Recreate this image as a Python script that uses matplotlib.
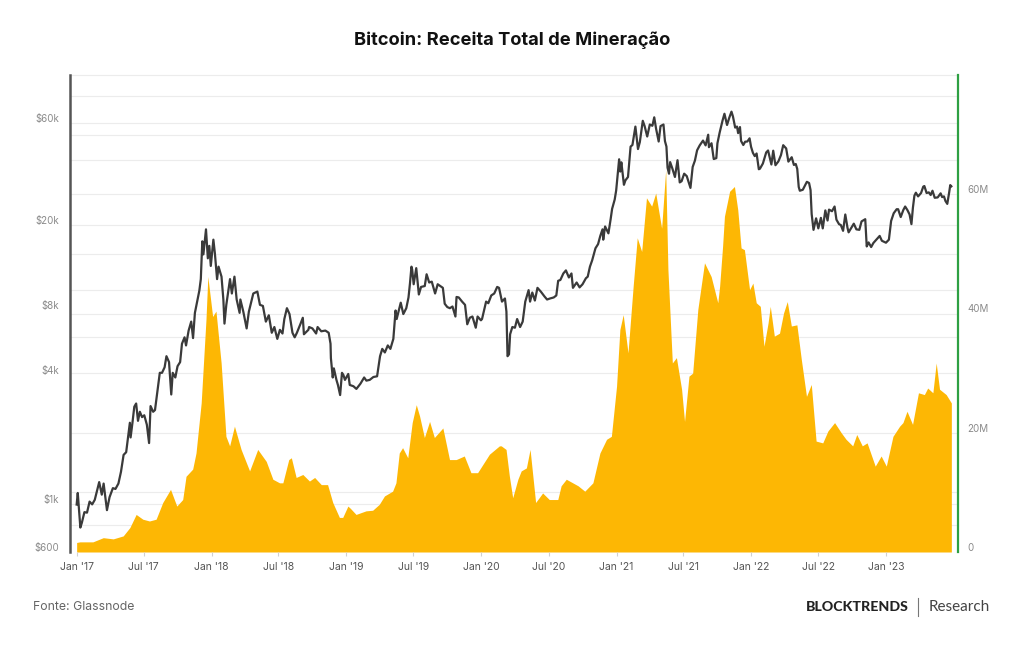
import matplotlib
matplotlib.use("Agg")
import matplotlib.pyplot as plt
import matplotlib.dates as mdates
from matplotlib.transforms import ScaledTranslation, blended_transform_factory
from matplotlib.lines import Line2D
import numpy as np
import pandas as pd

# ---------------- data ----------------
price_data = """
2017-01-01 998
2017-01-04 1130
2017-01-08 910
2017-01-11 780
2017-01-15 820
2017-01-22 920
2017-01-29 915
2017-02-05 1030
2017-02-12 1000
2017-02-19 1050
2017-02-26 1170
2017-03-03 1270
2017-03-10 1110
2017-03-15 1250
2017-03-24 940
2017-03-31 1080
2017-04-09 1190
2017-04-16 1180
2017-04-24 1250
2017-05-01 1420
2017-05-08 1700
2017-05-15 1750
2017-05-20 2050
2017-05-25 2400
2017-05-27 2050
2017-06-01 2400
2017-06-06 2850
2017-06-11 2950
2017-06-16 2450
2017-06-21 2700
2017-06-27 2550
2017-07-03 2600
2017-07-10 2350
2017-07-16 1930
2017-07-20 2870
2017-07-27 2700
2017-08-01 2750
2017-08-08 3400
2017-08-14 4100
2017-08-20 4100
2017-08-27 4350
2017-09-01 4900
2017-09-08 4600
2017-09-14 3250
2017-09-18 4100
2017-09-25 3900
2017-10-01 4400
2017-10-08 4600
2017-10-13 5600
2017-10-20 6000
2017-10-24 5500
2017-10-31 6450
2017-11-07 7100
2017-11-12 5950
2017-11-17 7800
2017-11-26 9300
2017-11-29 9900
2017-12-03 11200
2017-12-07 16800
2017-12-10 14600
2017-12-17 19100
2017-12-22 14000
2017-12-26 16000
2017-12-30 12900
2018-01-06 17100
2018-01-10 14800
2018-01-16 11200
2018-01-20 12800
2018-01-28 11500
2018-02-02 9000
2018-02-05 6950
2018-02-10 8500
2018-02-20 11200
2018-02-25 9600
2018-03-04 11500
2018-03-10 9000
2018-03-18 7800
2018-03-20 9000
2018-03-28 7900
2018-04-06 6600
2018-04-12 7900
2018-04-24 9600
2018-05-05 9800
2018-05-12 8500
2018-05-20 8400
2018-05-28 7100
2018-06-05 7600
2018-06-13 6300
2018-06-20 6700
2018-06-28 5900
2018-07-05 6500
2018-07-12 6250
2018-07-17 7300
2018-07-24 8200
2018-07-31 7700
2018-08-08 6300
2018-08-14 6000
2018-08-20 6300
2018-08-30 6950
2018-09-05 7400
2018-09-08 6200
2018-09-20 6500
2018-09-22 6700
2018-10-01 6600
2018-10-11 6250
2018-10-15 6700
2018-10-25 6400
2018-11-05 6450
2018-11-14 6300
2018-11-19 5600
2018-11-20 4800
2018-11-25 3900
2018-11-28 4300
2018-12-05 3800
2018-12-09 3600
2018-12-15 3230
2018-12-20 4100
2018-12-24 4000
2018-12-28 3800
2019-01-06 4050
2019-01-10 3600
2019-01-20 3550
2019-01-28 3450
2019-02-08 3650
2019-02-18 3900
2019-02-24 3770
2019-03-05 3800
2019-03-15 3920
2019-03-25 3950
2019-04-02 4900
2019-04-08 5300
2019-04-15 5100
2019-04-23 5500
2019-04-30 5300
2019-05-08 5900
2019-05-14 8000
2019-05-17 7300
2019-05-28 8700
2019-06-04 7700
2019-06-12 8200
2019-06-18 9200
2019-06-22 10700
2019-06-26 12800
2019-06-28 12400
2019-07-02 10600
2019-07-09 12600
2019-07-16 9500
2019-07-22 10300
2019-08-01 10400
2019-08-06 11800
2019-08-13 10800
2019-08-20 10900
2019-08-29 9600
2019-09-05 10600
2019-09-19 10200
2019-09-24 8600
2019-10-01 8300
2019-10-08 8200
2019-10-15 8350
2019-10-23 7500
2019-10-26 9250
2019-11-01 9200
2019-11-10 8800
2019-11-18 8500
2019-11-24 6900
2019-12-01 7400
2019-12-08 7500
2019-12-17 6650
2019-12-22 7500
2019-12-31 7200
2020-01-03 7300
2020-01-14 8800
2020-01-20 8650
2020-01-28 9400
2020-02-05 9600
2020-02-13 10300
2020-02-18 10200
2020-02-26 8800
2020-03-05 9100
2020-03-09 7900
2020-03-12 4900
2020-03-16 5000
2020-03-19 6200
2020-03-25 6700
2020-04-01 6650
2020-04-07 7300
2020-04-15 6700
2020-04-22 7100
2020-04-29 8800
2020-05-08 9950
2020-05-12 8800
2020-05-18 9700
2020-05-25 8900
2020-06-01 10200
2020-06-10 9800
2020-06-20 9300
2020-06-27 9000
2020-07-05 9100
2020-07-15 9200
2020-07-22 9400
2020-07-27 11000
2020-08-02 11100
2020-08-10 11900
2020-08-17 12300
2020-08-25 11400
2020-09-01 11900
2020-09-05 10200
2020-09-15 10800
2020-09-23 10250
2020-10-01 10600
2020-10-10 11300
2020-10-15 11500
2020-10-21 12800
2020-10-27 13700
2020-11-05 15600
2020-11-12 16300
2020-11-18 17800
2020-11-24 19100
2020-11-26 17100
2020-12-01 19700
2020-12-10 18300
2020-12-16 21300
2020-12-20 23800
2020-12-27 26300
2020-12-31 29000
2021-01-03 32800
2021-01-08 40500
2021-01-11 35500
2021-01-14 39200
2021-01-21 30800
2021-01-25 32300
2021-02-01 33500
2021-02-08 46400
2021-02-13 47200
2021-02-21 57500
2021-02-28 45200
2021-03-05 48700
2021-03-13 61200
2021-03-18 57800
2021-03-25 51700
2021-04-01 58800
2021-04-08 58000
2021-04-13 63500
2021-04-18 56200
2021-04-25 49000
2021-04-30 57800
2021-05-08 58800
2021-05-12 49200
2021-05-16 46400
2021-05-19 37000
2021-05-23 34700
2021-05-26 39300
2021-06-01 36700
2021-06-08 33500
2021-06-15 40100
2021-06-21 31600
2021-06-26 32000
2021-07-03 34700
2021-07-10 33800
2021-07-20 29800
2021-07-26 37300
2021-08-01 39900
2021-08-07 44600
2021-08-14 47000
2021-08-23 49500
2021-08-30 47000
2021-09-06 52700
2021-09-08 46100
2021-09-15 48100
2021-09-21 40600
2021-09-28 41000
2021-10-01 48100
2021-10-07 53900
2021-10-15 61500
2021-10-20 66000
2021-10-27 58500
2021-11-02 63200
2021-11-08 67500
2021-11-12 64100
2021-11-18 56900
2021-11-23 57500
2021-11-26 53600
2021-12-01 57200
2021-12-04 49300
2021-12-10 47200
2021-12-15 48900
2021-12-21 49000
2021-12-27 50700
2021-12-31 46300
2022-01-05 43400
2022-01-10 41900
2022-01-15 43100
2022-01-21 36400
2022-01-24 36600
2022-02-01 38700
2022-02-10 43600
2022-02-15 44500
2022-02-24 38300
2022-03-01 44400
2022-03-07 38000
2022-03-15 39600
2022-03-22 42400
2022-03-28 47100
2022-04-05 45500
2022-04-11 39500
2022-04-20 41400
2022-04-26 38100
2022-05-01 38500
2022-05-05 36500
2022-05-09 30100
2022-05-12 28900
2022-05-20 29200
2022-05-31 31800
2022-06-06 31400
2022-06-10 29100
2022-06-13 22500
2022-06-18 19000
2022-06-25 21500
2022-07-01 19300
2022-07-08 21600
2022-07-13 19300
2022-07-20 23400
2022-07-26 21000
2022-07-30 23600
2022-08-07 23200
2022-08-14 24400
2022-08-19 21200
2022-08-26 20200
2022-08-31 20000
2022-09-06 18800
2022-09-12 22400
2022-09-18 19400
2022-09-21 18500
2022-09-28 19400
2022-10-05 20300
2022-10-12 19100
2022-10-20 19000
2022-10-26 20800
2022-11-05 21300
2022-11-09 15900
2022-11-14 16600
2022-11-21 15800
2022-11-27 16500
2022-12-05 17100
2022-12-14 17800
2022-12-20 16900
2022-12-31 16550
2023-01-08 17100
2023-01-14 20900
2023-01-21 22700
2023-01-29 23700
2023-02-02 23700
2023-02-09 21800
2023-02-16 23500
2023-02-21 24400
2023-02-27 23500
2023-03-05 22400
2023-03-10 20200
2023-03-14 24100
2023-03-18 27400
2023-03-22 28300
2023-03-28 27200
2023-04-05 28200
2023-04-11 30200
2023-04-14 30400
2023-04-20 28200
2023-04-26 28400
2023-05-01 27600
2023-05-06 28900
2023-05-12 26800
2023-05-20 26900
2023-05-28 28100
2023-06-01 27000
2023-06-06 27200
2023-06-10 25900
2023-06-15 25100
2023-06-20 28300
2023-06-23 30700
2023-06-26 30300
"""

revenue_data = """
2017-01-01 1.6
2017-01-10 1.7
2017-02-14 1.7
2017-03-14 2.4
2017-04-10 2.2
2017-05-07 2.7
2017-05-25 4.1
2017-06-11 6.3
2017-06-29 5.5
2017-07-17 5.2
2017-08-04 5.5
2017-08-22 8.3
2017-09-12 10.5
2017-09-29 7.7
2017-10-15 8.8
2017-10-24 12.7
2017-11-11 13.9
2017-11-20 16.6
2017-12-04 25.0
2017-12-17 39.0
2017-12-22 46.2
2018-01-04 39.5
2018-01-13 40.4
2018-01-27 31.7
2018-02-09 19.4
2018-02-19 17.8
2018-03-04 21.1
2018-03-22 17.2
2018-04-14 13.6
2018-05-06 17.2
2018-05-29 15.2
2018-06-16 12.2
2018-07-04 11.6
2018-07-13 11.6
2018-07-29 15.5
2018-08-05 15.8
2018-08-18 12.5
2018-09-05 13.0
2018-09-23 11.9
2018-10-07 12.5
2018-10-25 11.3
2018-11-11 11.3
2018-11-25 8.3
2018-12-13 5.8
2018-12-22 5.8
2019-01-05 7.7
2019-01-12 7.3
2019-01-27 6.3
2019-02-23 6.9
2019-03-13 7.0
2019-03-31 8.0
2019-04-14 9.4
2019-05-06 10.2
2019-05-15 11.6
2019-05-24 16.6
2019-06-02 17.5
2019-06-16 15.8
2019-06-28 21.7
2019-07-09 24.7
2019-07-18 22.8
2019-07-31 19.2
2019-08-14 21.9
2019-08-27 19.2
2019-09-19 20.8
2019-10-07 15.5
2019-10-25 15.5
2019-11-16 16.1
2019-12-04 13.3
2019-12-22 13.3
2020-01-23 16.4
2020-02-19 17.8
2020-02-24 17.8
2020-03-08 17.2
2020-03-17 12.7
2020-03-26 9.1
2020-04-09 12.2
2020-04-18 13.6
2020-05-02 14.1
2020-05-12 17.2
2020-05-27 8.3
2020-06-15 9.9
2020-07-03 8.8
2020-07-26 8.8
2020-08-04 11.1
2020-08-18 12.2
2020-09-19 11.1
2020-10-07 10.2
2020-10-29 11.6
2020-11-17 16.6
2020-12-05 18.9
2020-12-18 19.4
2021-01-01 27.8
2021-01-10 37.3
2021-01-19 39.8
2021-02-01 33.4
2021-02-15 44.6
2021-02-26 52.7
2021-03-10 50.4
2021-03-23 59.4
2021-04-06 58.0
2021-04-17 60.2
2021-05-03 54.3
2021-05-14 64.1
2021-05-20 47.4
2021-06-01 31.7
2021-06-12 32.6
2021-06-26 27.3
2021-07-04 21.9
2021-07-16 29.5
2021-07-26 30.0
2021-08-09 40.7
2021-08-27 48.5
2021-09-14 46.2
2021-10-02 41.8
2021-10-07 44.6
2021-10-15 51.3
2021-10-20 56.3
2021-11-03 60.5
2021-11-16 61.3
2021-11-25 57.4
2021-12-04 51.0
2021-12-13 50.7
2021-12-27 44.0
2022-01-05 45.1
2022-01-14 41.8
2022-01-25 41.2
2022-02-04 34.5
2022-02-15 38.4
2022-02-21 41.2
2022-03-04 36.2
2022-03-18 36.7
2022-03-29 40.1
2022-04-08 42.0
2022-04-19 37.9
2022-05-04 38.1
2022-05-16 32.3
2022-05-30 26.1
2022-06-12 28.1
2022-06-25 18.6
2022-07-13 18.3
2022-07-27 20.3
2022-08-14 21.7
2022-09-01 20.0
2022-09-14 18.9
2022-10-02 17.8
2022-10-13 19.7
2022-10-28 17.8
2022-11-10 18.3
2022-12-02 14.4
2022-12-18 16.1
2023-01-01 14.4
2023-01-19 19.4
2023-02-06 21.1
2023-02-15 21.7
2023-02-26 23.6
2023-03-13 21.4
2023-03-29 26.7
2023-04-14 26.4
2023-04-23 27.5
2023-05-07 26.7
2023-05-16 31.7
2023-05-25 27.3
2023-06-12 26.4
2023-06-26 25.0
"""

price_dates = pd.to_datetime([l.split()[0] for l in price_data.split("\n") if l.strip()])
price_usd = [float(l.split()[1]) for l in price_data.split("\n") if l.strip()]
revenue_dates = pd.to_datetime([l.split()[0] for l in revenue_data.split("\n") if l.strip()])
revenue_musd = [float(l.split()[1]) for l in revenue_data.split("\n") if l.strip()]

left_ticks = [600, 1000, 4000, 8000, 20000, 60000]
left_labels = ["$600", "$1k", "$4k", "$8k", "$20k", "$60k"]
right_ticks = [0, 20, 40, 60]
right_labels = ["0", "20M", "40M", "60M"]
x_ticks = ["2017-01-01", "2017-07-01", "2018-01-01", "2018-07-01", "2019-01-01",
           "2019-07-01", "2020-01-01", "2020-07-01", "2021-01-01", "2021-07-01",
           "2022-01-01", "2022-07-01", "2023-01-01"]
x_labels = ["Jan '17", "Jul '17", "Jan '18", "Jul '18", "Jan '19", "Jul '19", "Jan '20",
            "Jul '20", "Jan '21", "Jul '21", "Jan '22", "Jul '22", "Jan '23"]

title = "Bitcoin: Receita Total de Mineração"
source = "Fonte: Glassnode"

# ---------------- figure ----------------
W, H = 1024, 645
fig = plt.figure(figsize=(W / 100, H / 100), dpi=100)
fig.patch.set_facecolor("white")
ax_l, ax_r, ax_t, ax_b = 70, 958, 75, 552
ax = fig.add_axes([ax_l / W, 1 - ax_b / H, (ax_r - ax_l) / W, (ax_b - ax_t) / H])
ax2 = ax.twinx()

FONT = ["Inter", "DejaVu Sans"]

# scales
ax.set_yscale("log")
ax.set_ylim(600, 100000)
ax2.set_ylim(0, 80)
x0 = mdates.date2num(pd.Timestamp("2017-01-01"))
ax.set_xlim(x0 - 18, x0 + 2385)

# faint gridlines, behind the revenue area
left_grid_tr = blended_transform_factory(ax2.transAxes, ax.transData)
for v in [800, 1000, 6000, 10000, 20000, 40000, 60000, 80000, 100000]:
    ax2.plot([0, 1], [v, v], transform=left_grid_tr, color="#ececec", lw=0.8,
             zorder=0, clip_on=False)
for v in [10, 20, 30, 40, 50, 60, 70]:
    ax2.axhline(v, color="#ececec", lw=0.8, zorder=0)

# revenue fill (right axis)
ax2.fill_between(revenue_dates, revenue_musd, 0, color="#FDB704", lw=0, zorder=2)

# price line (left axis, log)
ax.plot(price_dates, price_usd, color="#3a3a3a", lw=1.6, zorder=5, solid_joinstyle="round")

ax.set_zorder(ax2.get_zorder() + 1)
ax.patch.set_visible(False)

# ticks
ax.set_yticks(left_ticks)
ax.set_yticklabels(left_labels)
ax.yaxis.set_minor_locator(matplotlib.ticker.NullLocator())
ax.tick_params(axis="y", length=0, pad=8, labelsize=7, labelcolor="#8a8a8a")
ax2.set_yticks(right_ticks)
ax2.set_yticklabels(right_labels)
ax2.tick_params(axis="y", length=0, pad=7, labelsize=7, labelcolor="#8a8a8a")

ax.set_xticks([mdates.date2num(pd.Timestamp(d)) for d in x_ticks])
ax.set_xticklabels(x_labels)
ax.tick_params(axis="x", length=3, width=0.8, color="#d0d0d0", pad=4,
               labelsize=7.5, labelcolor="#555555")

for lab in ax.get_yticklabels() + ax2.get_yticklabels() + ax.get_xticklabels():
    lab.set_fontfamily(FONT)

# labels sit ~5px above their values in the reference
off = ScaledTranslation(0, 0.05, fig.dpi_scale_trans)
for t in ax.yaxis.get_major_ticks():
    t.label1.set_transform(t.label1.get_transform() + off)
for t in ax2.yaxis.get_major_ticks():
    t.label2.set_transform(t.label2.get_transform() + off)

# spines
for a in (ax, ax2):
    for s in a.spines.values():
        s.set_visible(False)
ax.spines["left"].set_visible(True)
ax.spines["left"].set_color("#555555")
ax.spines["left"].set_linewidth(1.8)
ax2.spines["right"].set_visible(True)
ax2.spines["right"].set_color("#2ea043")
ax2.spines["right"].set_linewidth(1.6)

# title and footer
fig.text(0.5, 1 - 40 / H, title, ha="center", va="center", fontsize=13.2,
         fontweight="bold", color="#111111", family=FONT)
fig.text(33 / W, 1 - 607 / H, source, ha="left", va="center", fontsize=8.8,
         color="#666666", family=FONT)
fig.text(909 / W, 1 - 607 / H, "BLOCKTRENDS", ha="right", va="center", fontsize=10.2,
         fontweight="black", color="#222222", family=["Lato", "DejaVu Sans"])
fig.text(990 / W, 1 - 607 / H, "Research", ha="right", va="center", fontsize=11,
         color="#444444", family=["Lato", "DejaVu Sans"])
fig.add_artist(Line2D([918 / W, 918 / W], [1 - 598 / H, 1 - 616 / H],
                      transform=fig.transFigure, color="#777777", lw=0.8))

fig.savefig("out.png", dpi=100, facecolor="white")
